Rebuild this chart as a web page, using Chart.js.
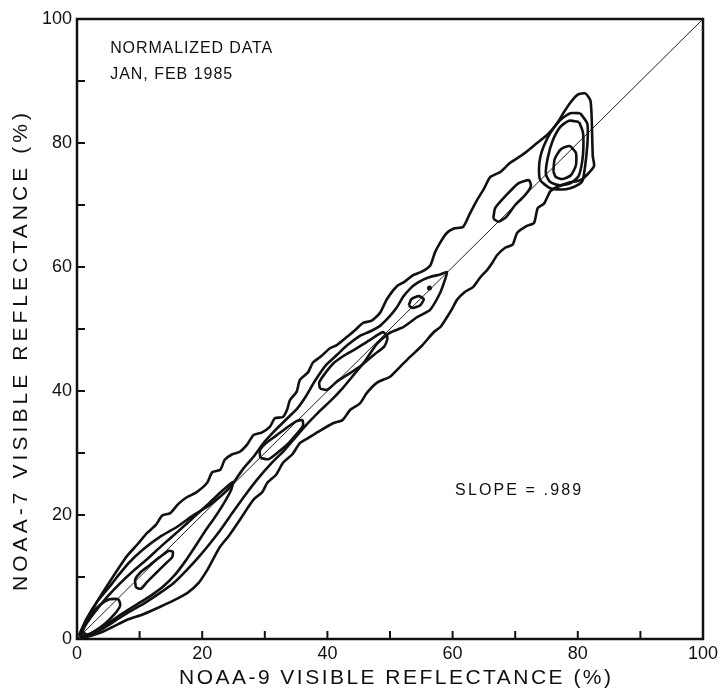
<!DOCTYPE html>
<html>
<head>
<meta charset="utf-8">
<script src="https://cdn.jsdelivr.net/npm/chart.js@4.4.1/dist/chart.umd.min.js"></script>
<style>
  html, body { margin: 0; padding: 0; background: #fff; }
  canvas { display: block; }
</style>
</head>
<body>
<canvas id="myChart" width="723" height="696"></canvas>
<script>
// contour outlines, [noaa9, noaa7] in percent
const outerContour = [[0.4,0.3],[1.2,2.5],[2.5,4.8],[3.8,7.0],[5.2,9.2],[6.5,11.2],[8.0,13.4],[9.6,15.2],[11.2,17.1],[12.6,18.4],[13.6,19.9],[14.9,20.3],[16.2,21.8],[17.6,22.9],[19.0,23.6],[20.8,25.2],[21.6,26.9],[22.9,27.3],[23.6,28.9],[24.8,29.8],[26.0,30.2],[27.2,31.4],[28.2,32.9],[29.5,33.3],[30.8,34.2],[31.6,35.6],[32.9,35.8],[33.6,37.1],[34.0,38.5],[35.1,39.9],[35.6,41.8],[36.9,43.0],[37.7,44.6],[39.0,45.6],[40.4,46.9],[41.5,47.4],[43.1,48.7],[44.4,49.8],[45.7,51.0],[47.0,51.3],[48.4,52.6],[49.5,54.8],[51.1,56.9],[52.3,57.6],[53.7,58.7],[55.0,59.2],[56.4,60.2],[57.2,62.4],[58.0,63.9],[59.0,65.4],[60.2,66.2],[61.7,66.5],[62.8,68.7],[63.9,70.8],[65.0,72.6],[66.0,74.5],[67.6,75.3],[69.2,76.8],[71.3,78.2],[73.5,80.0],[75.1,81.3],[76.7,83.2],[77.8,85.0],[78.8,86.5],[80.0,87.8],[81.2,88.0],[82.0,86.9],[82.2,84.5],[82.3,81.0],[82.4,77.8],[82.6,76.3],[81.6,75.0],[80.4,74.0],[78.5,73.6],[76.7,72.9],[75.6,72.2],[74.6,70.2],[73.6,69.5],[73.0,67.1],[71.8,66.6],[70.3,65.5],[69.6,63.6],[68.4,63.1],[67.1,61.9],[66.3,60.6],[65.5,59.5],[64.4,58.3],[63.3,56.8],[62.0,56.0],[60.7,54.7],[59.9,53.2],[59.1,51.9],[58.1,50.4],[56.9,49.4],[55.1,47.3],[53.2,45.5],[51.8,44.1],[50.0,42.3],[48.0,41.4],[46.3,39.7],[45.2,38.0],[43.6,36.9],[42.4,35.3],[40.9,34.8],[38.5,33.4],[36.9,32.4],[35.6,31.6],[34.4,29.8],[32.9,28.4],[31.8,26.5],[30.4,25.2],[29.6,23.7],[28.3,22.6],[27.1,20.9],[26.0,19.2],[24.3,16.7],[22.8,14.8],[21.6,12.6],[20.8,11.1],[19.4,9.0],[17.6,7.4],[15.6,6.3],[13.3,5.2],[10.6,4.0],[8.0,3.1],[5.6,1.9],[3.7,1.0],[1.0,0.2],[0.4,0.3]];
const secondContour = [[0.3,0.6],[1.5,3.2],[3.2,6.0],[5.0,8.2],[6.4,10.0],[8.3,12.3],[10.5,14.4],[13.3,16.5],[16.0,18.1],[18.5,19.9],[21.2,21.6],[24.4,24.4],[26.5,27.4],[28.2,29.4],[29.8,31.6],[31.6,33.6],[33.4,35.4],[35.2,37.2],[36.6,39.2],[38.0,41.6],[39.8,44.2],[41.5,45.8],[43.2,47.4],[45.2,48.9],[46.8,49.6],[48.4,50.5],[50.0,52.1],[51.1,53.5],[52.1,55.2],[53.3,56.6],[54.3,57.4],[55.4,58.0],[56.4,58.4],[58.0,58.8],[59.1,59.2],[58.8,58.0],[58.0,55.8],[56.4,53.1],[54.3,51.9],[52.1,50.3],[50.0,49.4],[47.9,47.6],[46.0,44.8],[44.2,42.6],[42.3,40.3],[40.5,38.4],[38.6,36.6],[36.7,34.6],[34.8,32.4],[33.0,30.3],[31.0,28.3],[29.0,26.0],[27.0,23.4],[25.0,20.6],[23.2,18.0],[21.4,15.6],[19.6,13.4],[17.6,11.2],[15.4,9.0],[13.2,7.4],[10.8,5.8],[8.4,4.4],[6.2,3.0],[4.0,1.6],[2.0,0.6],[0.3,0.6]];
const spindleContour = [[0.4,0.5],[1.6,2.6],[3.2,4.8],[5.0,7.0],[6.8,8.9],[8.8,10.8],[11.0,12.7],[13.6,15.1],[16.2,17.4],[18.8,19.8],[21.2,22.0],[23.2,23.9],[24.9,25.3],[24.6,24.0],[23.4,21.8],[22.0,19.6],[20.4,17.3],[18.8,14.8],[17.2,12.4],[15.6,10.3],[13.8,8.5],[11.8,7.0],[9.6,5.6],[7.4,4.2],[5.2,2.7],[3.2,1.4],[1.4,0.4],[0.4,0.5]];
const originBlob = [[0.9,1.2],[1.3,2.6],[2.4,4.2],[3.8,5.6],[5.2,6.4],[6.6,6.4],[6.9,5.4],[6.0,4.0],[4.6,2.6],[3.0,1.4],[1.6,0.7],[0.9,1.2]];
const blob12 = [[9.4,8.3],[9.3,9.6],[10.2,10.8],[11.6,11.9],[13.2,13.2],[14.6,14.2],[15.3,14.1],[15.2,13.2],[14.0,12.0],[12.6,10.6],[11.2,9.2],[10.2,8.1],[9.4,8.3]];
const blob32 = [[29.3,29.2],[29.2,30.4],[30.2,31.6],[31.8,32.8],[33.4,34.0],[35.0,35.1],[36.0,35.3],[36.1,34.4],[35.2,33.2],[33.8,31.6],[32.2,30.2],[30.6,29.0],[29.3,29.2]];
const blob44 = [[38.8,40.4],[38.7,41.4],[39.6,42.8],[40.9,44.4],[42.5,45.6],[44.2,46.6],[45.8,47.6],[47.5,48.7],[48.9,49.5],[49.6,48.6],[49.1,47.2],[47.5,45.9],[45.5,44.2],[43.5,42.8],[41.6,41.6],[40.0,40.2],[38.8,40.4]];
const blob54 = [[53.0,53.8],[53.4,54.8],[54.6,55.3],[55.4,54.8],[54.8,53.8],[53.6,53.4],[53.0,53.8]];
const dot56 = [[56.3,56.6]];
const blob70 = [[66.5,67.8],[66.8,69.5],[68.5,71.5],[70.5,73.5],[72.2,74.0],[72.5,73.0],[71.5,71.5],[70.0,70.0],[68.5,68.0],[67.3,67.3],[66.5,67.8]];
const topLevel2 = [[80.4,84.8],[78.8,84.8],[77.2,83.7],[75.6,81.6],[74.6,79.6],[74.0,77.7],[73.8,75.8],[74.0,74.0],[75.6,72.7],[77.4,72.5],[78.8,72.7],[80.3,73.4],[80.8,74.0],[81.2,76.5],[81.5,79.4],[81.6,81.5],[81.5,83.2],[80.4,84.8]];
const topLevel3 = [[80.2,83.4],[78.6,83.6],[77.2,82.6],[76.0,80.4],[75.2,77.6],[74.9,75.0],[75.6,73.7],[77.0,73.2],[78.8,73.5],[80.1,74.6],[80.7,77.0],[80.9,79.5],[80.8,81.8],[80.2,83.4]];
const topLevel4 = [[76.1,75.4],[76.3,77.4],[77.3,79.0],[78.7,79.5],[79.7,78.4],[79.7,76.4],[78.9,74.8],[77.6,74.2],[76.5,74.5],[76.1,75.4]];
const fitLine = [[0,0],[100,100]];

const xTicks = [0, 20, 40, 60, 80, 100];
const yTicks = [0, 20, 40, 60, 80, 100];
const noteLines = ["NORMALIZED DATA", "JAN, FEB 1985"];
const slopeText = "SLOPE = .989";

const xTitle = "NOAA-9 VISIBLE REFLECTANCE (%)";
const yTitle = "NOAA-7 VISIBLE REFLECTANCE (%)";

const contours = [outerContour, secondContour, spindleContour, originBlob, blob12, blob32,
  blob44, blob54, blob70, topLevel2, topLevel3, topLevel4];

const toPts = arr => arr.map(p => ({ x: p[0], y: p[1] }));

const datasets = contours.map(c => ({
  type: "line",
  data: toPts(c),
  borderColor: "#111",
  borderWidth: 2.6,
  pointRadius: 0,
  fill: false,
  tension: 0.2
}));
datasets.push({
  type: "line",
  data: toPts(fitLine),
  borderColor: "#222",
  borderWidth: 1,
  pointRadius: 0,
  fill: false
});
datasets.push({
  type: "scatter",
  data: toPts(dot56),
  backgroundColor: "#111",
  borderWidth: 0,
  pointRadius: 2.5
});

const FONT = "'Liberation Sans', Arial, sans-serif";

// draw text stretched to a given width with letter spacing
function spacedText(ctx, str, cx, cy, width, size, align) {
  ctx.font = size + "px " + FONT;
  ctx.letterSpacing = "0px";
  const w = ctx.measureText(str).width;
  const sp = (width - w) / (str.length - 1);
  ctx.letterSpacing = sp + "px";
  ctx.textAlign = "left";
  ctx.textBaseline = "middle";
  const x0 = align === "center" ? cx - width / 2 : cx;
  ctx.fillText(str, x0, cy);
  ctx.letterSpacing = "0px";
}

const framePlugin = {
  id: "frame",
  afterDraw(chart) {
    const { ctx, chartArea: a, scales } = chart;
    const xs = scales.x, ys = scales.y;
    ctx.save();
    ctx.strokeStyle = "#111";
    ctx.lineWidth = 2.5;
    ctx.strokeRect(a.left, a.top, a.right - a.left, a.bottom - a.top);
    // inward ticks every 10
    ctx.lineWidth = 2;
    for (let v = 10; v < 100; v += 10) {
      const px = xs.getPixelForValue(v);
      ctx.beginPath(); ctx.moveTo(px, a.bottom); ctx.lineTo(px, a.bottom - 8); ctx.stroke();
      const py = ys.getPixelForValue(v);
      ctx.beginPath(); ctx.moveTo(a.left, py); ctx.lineTo(a.left + 8, py); ctx.stroke();
    }
    ctx.fillStyle = "#111";
    // notes
    spacedText(ctx, noteLines[0], xs.getPixelForValue(5.3), ys.getPixelForValue(95.3), 162, 16, "left");
    spacedText(ctx, noteLines[1], xs.getPixelForValue(5.3), ys.getPixelForValue(91.0), 122, 16, "left");
    spacedText(ctx, slopeText, xs.getPixelForValue(60.4), ys.getPixelForValue(23.9), 126, 16, "left");
    // axis titles
    spacedText(ctx, xTitle, (a.left + a.right) / 2 + 5, 678, 432, 21, "center");
    ctx.translate(21, 352);
    ctx.rotate(-Math.PI / 2);
    spacedText(ctx, yTitle, 0, 0, 478, 21, "center");
    ctx.restore();
  }
};

const ctx = document.getElementById("myChart").getContext("2d");
const myChart = new Chart(ctx, {
  type: "scatter",
  data: { datasets: datasets },
  options: {
    responsive: false,
    animation: false,
    layout: { padding: { top: 19, right: 20, left: 0, bottom: 0 } },
    plugins: { legend: { display: false }, tooltip: { enabled: false } },
    scales: {
      x: {
        type: "linear", min: 0, max: 100,
        afterBuildTicks: s => { s.ticks = xTicks.map(v => ({ value: v })); },
        afterFit: s => { s.height = 57; },
        grid: { display: false, drawTicks: false },
        border: { display: false },
        ticks: { color: "#111", font: { family: FONT, size: 18 }, padding: 4, maxRotation: 0, autoSkip: false }
      },
      y: {
        type: "linear", min: 0, max: 100,
        afterBuildTicks: s => { s.ticks = yTicks.map(v => ({ value: v })); },
        afterFit: s => { s.width = 77; },
        grid: { display: false, drawTicks: false },
        border: { display: false },
        ticks: { color: "#111", font: { family: FONT, size: 18 }, padding: 5, autoSkip: false }
      }
    }
  },
  plugins: [framePlugin]
});
</script>
</body>
</html>
